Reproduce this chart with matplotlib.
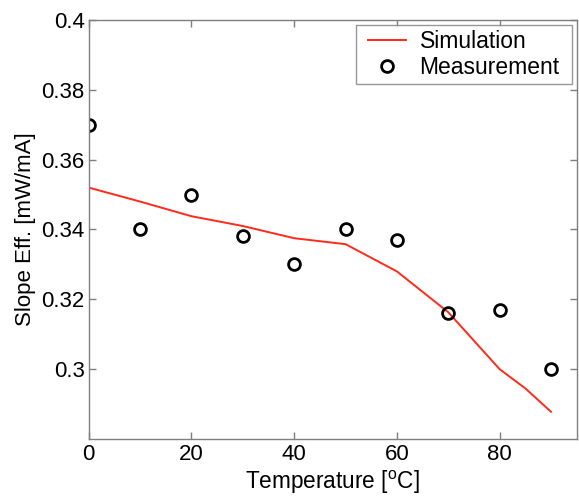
import matplotlib
matplotlib.use("Agg")
import matplotlib.pyplot as plt
from matplotlib.path import Path

plt.rcParams['font.family'] = ['Liberation Sans', 'DejaVu Sans']
plt.rcParams['mathtext.fontset'] = 'custom'
plt.rcParams['mathtext.rm'] = 'Liberation Sans'
plt.rcParams['mathtext.it'] = 'Liberation Sans:italic'

sim_T = [0, 10, 20, 30, 40, 50, 60, 70, 80, 85, 90]
sim_eff = [0.352, 0.348, 0.3438, 0.341, 0.3375, 0.3358, 0.328, 0.3163, 0.300, 0.2945, 0.2878]

meas_T = [0, 10, 20, 30, 40, 50, 60, 70, 80, 90]
meas_eff = [0.370, 0.340, 0.350, 0.338, 0.330, 0.340, 0.337, 0.316, 0.317, 0.300]

xticks = [0, 20, 40, 60, 80]
yticks = [0.30, 0.32, 0.34, 0.36, 0.38, 0.40]
ytick_labels = ['0.3', '0.32', '0.34', '0.36', '0.38', '0.4']

fig = plt.figure(figsize=(5.79, 4.97), dpi=100)
ax = fig.add_axes([0.1532, 0.1167, 0.996 - 0.1532, 0.9598 - 0.1167])

ax.plot(sim_T, sim_eff, color='#ff2a1a', lw=1.4, label='Simulation')
ax.plot(meas_T, meas_eff, linestyle='none', marker='o', markersize=8.5,
        markerfacecolor='none', markeredgecolor='black', markeredgewidth=2.0,
        label='Measurement')

ax.set_xlim(0, 95)
ax.set_ylim(0.28, 0.40)
ax.set_xticks(xticks)
ax.set_yticks(yticks)
ax.set_yticklabels(ytick_labels)

for s in ax.spines.values():
    s.set_color('#7f7f7f')
    s.set_linewidth(1.0)
ax.tick_params(direction='in', length=5, width=1.0, color='#7f7f7f',
               top=True, right=True, labelsize=16, labelcolor='black')
ax.tick_params(axis='x', pad=3.5)
ax.tick_params(axis='y', pad=3)

ax.set_xlabel('Temperature [$^{\\rm o}$C]', fontsize=16.3, labelpad=3)
ax.set_ylabel('Slope Eff. [mW/mA]', fontsize=16, labelpad=4)


def wide_box(x0, y0, width, height, mutation_size):
    # frame a little wider than tall padding, as in the reference legend
    dx = 0.32 * mutation_size
    x1, y1 = x0 + width + dx, y0 + height
    x0 = x0 - dx
    return Path([(x0, y0), (x1, y0), (x1, y1), (x0, y1), (x0, y0)], closed=True)


leg = ax.legend(loc='upper right', fontsize=16.5, frameon=True, fancybox=False,
                borderaxespad=0.52, handlelength=1.65, handletextpad=0.6,
                borderpad=0.22, labelspacing=0.12)
leg.legendPatch.set_boxstyle(wide_box)
leg.get_frame().set_edgecolor('#7f7f7f')
leg.get_frame().set_linewidth(1.0)
leg.set_bbox_to_anchor((1.0, 1.0 + 0.3 * 16.5 / 72 * 100 / (ax.get_position().height * 497)),
                       transform=ax.transAxes)

fig.savefig('out.png', dpi=100)
